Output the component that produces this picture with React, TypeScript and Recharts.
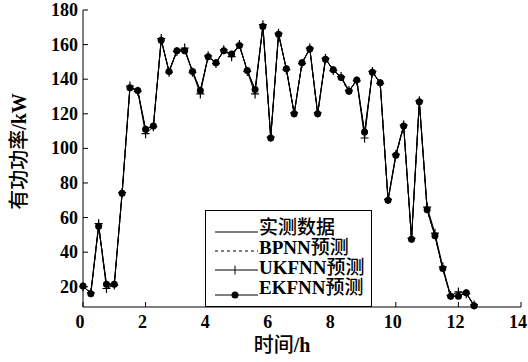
import { LineChart, Line, XAxis, YAxis, Legend } from 'recharts'

// time of day (h), 15-minute samples
const hours = [
  0, 0.25, 0.5, 0.75, 1, 1.25, 1.5, 1.75, 2, 2.25, 2.5, 2.75, 3, 3.25, 3.5, 3.75, 4,
  4.25, 4.5, 4.75, 5, 5.25, 5.5, 5.75, 6, 6.25, 6.5, 6.75, 7, 7.25, 7.5, 7.75, 8,
  8.25, 8.5, 8.75, 9, 9.25, 9.5, 9.75, 10, 10.25, 10.5, 10.75, 11, 11.25, 11.5, 11.75,
  12, 12.25, 12.5,
]

// active power (kW)
const measured = [
  20.5, 16, 55, 21.5, 21.5, 74, 135, 133.5, 111, 113, 162.5, 144.5, 156.5, 157, 144.5,
  133.5, 153, 149.5, 156.5, 154.5, 159.5, 145, 134, 170.5, 106, 166, 146, 120, 149.5,
  157.5, 120, 151.5, 145.5, 141, 133, 139.5, 109, 144, 138, 70, 96, 113, 47.5, 127,
  64.5, 49.5, 30.5, 14.5, 14.5, 16.5, 9,
]
const bpnn = [
  20, 17, 54.5, 20, 21, 73.5, 134.5, 134, 110, 113.5, 162, 145, 156, 156.5, 145, 133,
  152.5, 150, 156, 155, 159, 145.5, 133.5, 170, 106.5, 165.5, 146.5, 119.5, 150, 157,
  119.5, 151, 146, 140.5, 132.5, 140, 108, 143.5, 138.5, 69.5, 95.5, 112.5, 47, 126.5,
  64, 49, 30, 14, 15, 16, 9,
]
const ukfnn = [
  20, 16.5, 56.5, 19, 21, 74.5, 136, 133, 108.5, 112.5, 163.5, 144, 156, 158, 144,
  131.5, 153.5, 149, 157, 153, 160, 144.5, 131.5, 171.5, 106.5, 166.5, 145.5, 120.5,
  149, 158, 120.5, 152, 145, 141.5, 133.5, 139, 106, 144.5, 137.5, 70.5, 96.5, 113.5,
  48, 127.5, 66, 51, 31.5, 15, 17, 16, 9.5,
]
const ekfnn = [
  20.5, 16, 55, 21.5, 21.5, 74, 135, 133.5, 111, 113, 162.5, 144.5, 156.5, 156.5, 144.5,
  133.5, 153, 149.5, 156.5, 154.5, 159.5, 145, 134, 170.5, 106, 166, 146, 120, 149.5,
  157.5, 120, 151.5, 145.5, 141, 133, 139.5, 109.5, 144, 138, 70, 96, 113, 47.5, 127,
  64.5, 49.5, 30.5, 14.5, 14.5, 16.5, 9,
]

const xTicks = [0, 2, 4, 6, 8, 10, 12, 14]
const yTicks = [20, 40, 60, 80, 100, 120, 140, 160, 180]
const seriesNames = ['实测数据', 'BPNN预测', 'UKFNN预测', 'EKFNN预测']
const xTitle = '时间/h'
const yTitle = '有功功率/kW'

const data = hours.map((t, i) => ({
  t,
  measured: measured[i],
  bpnn: bpnn[i],
  ukfnn: ukfnn[i],
  ekfnn: ekfnn[i],
}))

const LATIN = "'Liberation Serif', 'Times New Roman', serif"
const CJK = "'Noto Sans CJK SC', sans-serif"

// split a label into CJK / latin runs so each gets its own font
function runs(s: string) {
  const out: { text: string; cjk: boolean }[] = []
  for (const ch of s) {
    const cjk = /[\u3000-\u9fff]/.test(ch)
    const last = out[out.length - 1]
    if (last && last.cjk === cjk) last.text += ch
    else out.push({ text: ch, cjk })
  }
  return out
}

function MixedSpans({ text }: { text: string }) {
  return (
    <>
      {runs(text).map((r, i) => (
        <tspan
          key={i}
          fontFamily={r.cjk ? CJK : LATIN}
          fontWeight={r.cjk ? 500 : 700}
        >
          {r.text}
        </tspan>
      ))}
    </>
  )
}

function XTick(props: any) {
  const { x, y, payload } = props
  return (
    <g>
      <line x1={x} x2={x} y1={y} y2={y - 5} stroke="#000" />
      <text x={x - 3} y={y + 21} textAnchor="middle" fontFamily={LATIN} fontWeight={700} fontSize={18} fill="#000">
        {payload.value}
      </text>
    </g>
  )
}

function YTick(props: any) {
  const { x, y, payload } = props
  return (
    <g>
      <line x1={x} x2={x + 5} y1={y} y2={y} stroke="#000" />
      <text x={x - 5} y={y + 6} textAnchor="end" fontFamily={LATIN} fontWeight={700} fontSize={18} fill="#000">
        {payload.value}
      </text>
    </g>
  )
}

function XTitle(props: any) {
  const vb = props.viewBox || {}
  return (
    <text x={vb.x + vb.width / 2 - 20} y={vb.y + 45} textAnchor="middle" fontSize={20} fill="#000">
      <MixedSpans text={xTitle} />
    </text>
  )
}

function YTitle(props: any) {
  const vb = props.viewBox || {}
  const cx = vb.x + 26
  const cy = vb.y + vb.height / 2 - 7
  return (
    <text x={cx} y={cy} textAnchor="middle" fontSize={20} fill="#000" transform={`rotate(-90 ${cx} ${cy})`}>
      <MixedSpans text={yTitle} />
    </text>
  )
}

function PlusDot(p: any) {
  const { cx, cy, index } = p
  if (cx == null || cy == null) return <g key={index} />
  return (
    <path
      key={index}
      d={`M${cx - 4},${cy}H${cx + 4}M${cx},${cy - 4.5}V${cy + 4.5}`}
      stroke="#000"
      strokeWidth={1.2}
    />
  )
}

function LegendBox() {
  const rows = [
    { name: seriesNames[0], lineY: 21, textY: 23, dash: undefined, mark: '' },
    { name: seriesNames[1], lineY: 40, textY: 43, dash: '3 3', mark: '' },
    { name: seriesNames[2], lineY: 59, textY: 63, dash: undefined, mark: 'plus' },
    { name: seriesNames[3], lineY: 84, textY: 83, dash: undefined, mark: 'dot' },
  ]
  return (
    <div style={{ width: 165, height: 95, border: '1px solid #000', background: '#fff' }}>
      <svg width={165} height={95} style={{ display: 'block' }}>
        {rows.map((r) => (
          <g key={r.name}>
            <line x1={9} x2={52} y1={r.lineY} y2={r.lineY} stroke="#000" strokeDasharray={r.dash} />
            {r.mark === 'plus' && (
              <line x1={29} x2={29} y1={r.lineY - 4.5} y2={r.lineY + 4.5} stroke="#000" />
            )}
            {r.mark === 'dot' && <circle cx={29} cy={r.lineY} r={3.5} fill="#000" />}
            <text x={53} y={r.textY} fontSize={19} fill="#000">
              <MixedSpans text={r.name} />
            </text>
          </g>
        ))}
      </svg>
    </div>
  )
}

export default function App() {
  return (
    <div style={{ position: 'absolute', left: 0, top: 0, width: 528, height: 362, background: '#fff' }}>
      <LineChart width={528} height={362} data={data} margin={{ top: 10, right: 7, bottom: 0, left: 0 }}>
        <XAxis
          dataKey="t"
          type="number"
          domain={[0, 14]}
          ticks={xTicks}
          height={55}
          tickSize={0}
          tickMargin={0}
          tickLine={false}
          axisLine={{ stroke: '#000' }}
          tick={<XTick />}
          interval={0}
          label={<XTitle />}
        />
        <YAxis
          type="number"
          domain={[8.3, 180]}
          ticks={yTicks}
          width={83}
          tickSize={0}
          tickMargin={0}
          tickLine={false}
          axisLine={{ stroke: '#000' }}
          tick={<YTick />}
          interval={0}
          label={<YTitle />}
        />
        <Legend
          layout="vertical"
          align="center"
          verticalAlign="middle"
          content={() => <LegendBox />}
          wrapperStyle={{ left: 205, top: 210, width: 167, height: 97 }}
        />
        <Line dataKey="bpnn" name={seriesNames[1]} stroke="#000" strokeWidth={1} strokeDasharray="3 3" dot={false} activeDot={false} isAnimationActive={false} />
        <Line dataKey="measured" name={seriesNames[0]} stroke="#000" strokeWidth={1} dot={false} activeDot={false} isAnimationActive={false} />
        <Line dataKey="ukfnn" name={seriesNames[2]} stroke="#000" strokeWidth={1} dot={PlusDot} activeDot={false} isAnimationActive={false} />
        <Line dataKey="ekfnn" name={seriesNames[3]} stroke="#000" strokeWidth={1} dot={{ r: 3.5, fill: '#000', stroke: '#000', strokeWidth: 0 }} activeDot={false} isAnimationActive={false} />
      </LineChart>
    </div>
  )
}
